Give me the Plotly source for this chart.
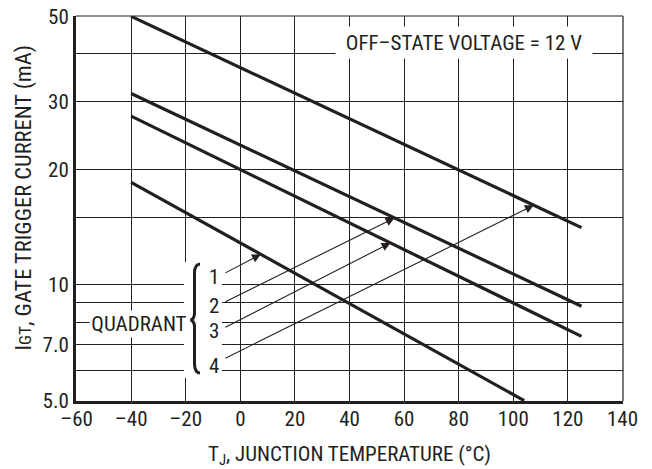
import numpy as np
import plotly.graph_objects as go

# ---- data ----
temps_q1 = [-40, 104]
igt_q1 = [18.5, 5.0]
temps_q2 = [-40, 125]
igt_q2 = [31.5, 8.8]
temps_q3 = [-40, 125]
igt_q3 = [27.5, 7.35]
temps_q4 = [-40, 125]
igt_q4 = [50.0, 14.1]

x_ticks = [-60, -40, -20, 0, 20, 40, 60, 80, 100, 120, 140]
x_ticktext = ["\u201360", "\u201340", "\u201320", "0", "20", "40", "60", "80", "100", "120", "140"]
y_grid = [5, 6, 7, 8, 9, 10, 15, 20, 30, 40, 50]
y_ticktext = ["5.0", "", "7.0", "", "", "10", "", "20", "30", "", "50"]

# arrow tips (temperature on the curve) and tails
arrow_tip_x = [7.5, 56.5, 55.0, 107.5]
arrow_tail_x = [-6, -6, -6, -6]
arrow_tail_y = [10.7, 9.0, 7.73, 6.42]

FONT = "Liberation Sans Narrow, Arial Narrow, Roboto Condensed, Liberation Sans, Arial, sans-serif"
INK = "#231f20"
FS = 21

W, H = 652, 469
L, T = 76, 16
R = W - 623
B = H - 401
PW, PH = W - L - R, H - T - B


def px(xp):
    return (xp - L) / PW


def py(yp):
    return (H - B - yp) / PH


series = [(temps_q1, igt_q1), (temps_q2, igt_q2), (temps_q3, igt_q3), (temps_q4, igt_q4)]

fig = go.Figure()
for xs, ys in series:
    fig.add_trace(go.Scatter(x=xs, y=ys, mode="lines",
                             line=dict(color=INK, width=3.2),
                             showlegend=False, hoverinfo="skip", cliponaxis=False))


def on_curve(idx, xv):
    xs, ys = series[idx]
    return float(np.interp(xv, xs, np.log10(ys)))


annotations = []
for i in range(4):
    annotations.append(dict(
        x=arrow_tip_x[i], y=on_curve(i, arrow_tip_x[i]),
        ax=arrow_tail_x[i], ay=float(np.log10(arrow_tail_y[i])),
        xref="x", yref="y", axref="x", ayref="y",
        text="", showarrow=True, arrowhead=2, arrowsize=1.6,
        arrowwidth=1.1, arrowcolor=INK, standoff=0, startstandoff=0,
    ))

for lbl, yp in zip(["1", "2", "3", "4"], [276.5, 305.5, 331, 365.5]):
    annotations.append(dict(x=px(214), y=py(yp), xref="paper", yref="paper",
                            text=lbl, showarrow=False,
                            font=dict(family=FONT, size=FS, color=INK),
                            xanchor="center", yanchor="middle"))

annotations.append(dict(x=px(139), y=py(323.5), xref="paper", yref="paper",
                        text="QUADRANT", showarrow=False, bgcolor="white",
                        width=98, height=26, borderpad=0,
                        font=dict(family=FONT, size=FS, color=INK),
                        xanchor="center", yanchor="middle"))

annotations.append(dict(x=px(463.5), y=py(42.5), xref="paper", yref="paper",
                        text="OFF\u2013STATE VOLTAGE = 12 V", showarrow=False,
                        bgcolor="white", width=256, height=31, borderpad=0,
                        font=dict(family=FONT, size=FS, color=INK),
                        xanchor="center", yanchor="middle"))

# y-axis title
annotations.append(dict(x=px(23), y=py(198.5), xref="paper", yref="paper",
                        text="I<span style='font-size:17px'>GT</span>, GATE TRIGGER CURRENT (mA)",
                        textangle=-90, showarrow=False,
                        font=dict(family=FONT, size=22.5, color=INK),
                        xanchor="center", yanchor="middle"))

shapes = [
    dict(type="line", xref="paper", yref="paper", x0=0, x1=1, y0=1, y1=1,
         line=dict(color=INK, width=1.2), layer="below"),
    dict(type="line", xref="paper", yref="paper", x0=1, x1=1, y0=0, y1=1,
         line=dict(color=INK, width=1.2), layer="below"),
    dict(type="rect", xref="paper", yref="paper",
         x0=px(184), x1=px(222), y0=py(378), y1=py(262),
         fillcolor="white", line=dict(width=0), layer="above"),
]

brace = (f"M {px(200)},{py(264)} Q {px(194.5)},{py(264.5)} {px(194.5)},{py(273)} "
         f"L {px(194.5)},{py(313)} Q {px(194.5)},{py(319)} {px(190.5)},{py(320)} "
         f"Q {px(194.5)},{py(321)} {px(194.5)},{py(327)} "
         f"L {px(194.5)},{py(364)} Q {px(194.5)},{py(372.5)} {px(200)},{py(373)}")
shapes.append(dict(type="path", xref="paper", yref="paper", path=brace,
                   line=dict(color=INK, width=3), layer="above"))

fig.update_layout(
    width=W, height=H,
    margin=dict(l=L, r=R, t=T, b=B, pad=0),
    paper_bgcolor="white", plot_bgcolor="white",
    font=dict(family=FONT, size=FS, color=INK),
    annotations=annotations, shapes=shapes,
    showlegend=False,
)

fig.update_xaxes(
    range=[-60.2, 140.2], tickvals=x_ticks, ticktext=x_ticktext,
    showgrid=True, gridcolor=INK, gridwidth=1,
    showline=True, linecolor=INK, linewidth=3,
    zeroline=False, ticks="", ticklabelstandoff=-3, ticklabeloverflow="allow",
    tickfont=dict(family=FONT, size=FS, color=INK),
    title=dict(text="T<sub>J</sub>, JUNCTION TEMPERATURE (\u00b0C)",
               font=dict(family=FONT, size=FS, color=INK), standoff=29),
    automargin=False,
)
fig.update_yaxes(
    type="log", range=[np.log10(5) - 0.001, np.log10(50) + 0.001],
    tickvals=y_grid, ticktext=y_ticktext,
    showgrid=True, gridcolor=INK, gridwidth=1,
    showline=True, linecolor=INK, linewidth=3,
    zeroline=False, ticks="", ticklabelstandoff=0, ticklabeloverflow="allow",
    tickfont=dict(family=FONT, size=FS, color=INK),
    automargin=False,
)

fig.write_html("out.html", config={"displayModeBar": False},
               post_script="document.body.style.margin='0';")
